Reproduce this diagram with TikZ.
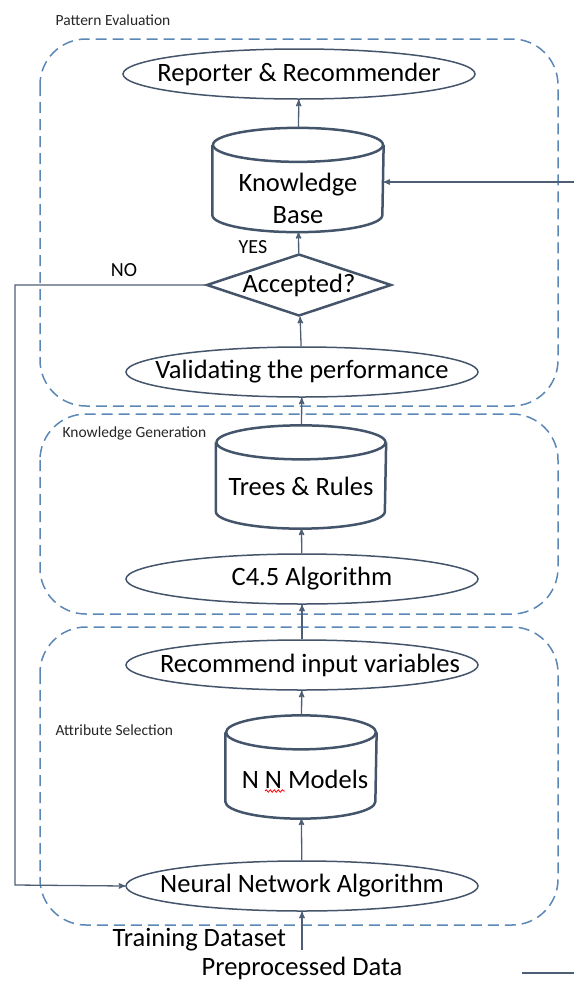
\documentclass[tikz,border=0pt]{standalone}
\usepackage{xcolor}
\usepackage{fontspec}
\setmainfont{Carlito}
\usepackage{tikz}
\usetikzlibrary{arrows, shapes.geometric, decorations.pathmorphing}

\definecolor{shapecol}{HTML}{44546A}
\definecolor{arrcol}{HTML}{4E5E74}
\definecolor{grpcol}{HTML}{5A87B5}

\begin{document}
\begin{tikzpicture}[x=1pt, y=-1pt,
				>=stealth',
				line width=1.3pt,
				ell/.style={ellipse, draw=shapecol, line width=1.5pt, inner sep=0pt,
					minimum width=352pt, minimum height=50pt, font=\fontsize{26.5}{32}\selectfont},
				cylbox/.style={rectangle, inner sep=0pt, minimum height=102pt},
				cylline/.style={draw=shapecol, line width=2.5pt, line join=round},
				cyltext/.style={align=center, inner sep=0pt, font=\fontsize{26.5}{32}\selectfont},
				grp/.style={draw=grpcol, line width=1.5pt, dash pattern=on 11pt off 6pt, rounded corners=46pt},
				grplabel/.style={anchor=west, inner sep=0pt, font=\fontsize{15.5}{18}\selectfont, text=black!85},
				yesno/.style={inner sep=0pt, font=\fontsize{20}{24}\selectfont}]
				\useasboundingbox (0,0) rectangle (574,983);
				% group boxes
				\draw[grp] (40,39) rectangle (558,406);
				\draw[grp] (40,414) rectangle (558,614);
				\draw[grp] (40,627) rectangle (558,925);
				\node at (55,20) (pelabel) [grplabel] {Pattern Evaluation};
				\node at (62,433) (kglabel) [grplabel] {Knowledge Generation};
				\node at (55,730) (aslabel) [grplabel] {Attribute Selection};
				% flow
				\node at (299,74) (rep) [ell] {\makebox[0pt]{Reporter \& Recommender}};
				\node at (298,180) (kb) [cylbox, minimum width=170pt, minimum height=103pt,
					label={[cyltext, yshift=-18pt]center:Knowledge\\Base}] {};
				\node at (299,285) (acc) [diamond, draw=shapecol, line width=2.5pt, inner sep=0pt,
					minimum width=185pt, minimum height=62pt, font=\fontsize{26.5}{32}\selectfont] {\makebox[0pt]{Accepted?}};
				\node at (302,372) (val) [ell] {\makebox[0pt]{Validating the performance}};
				\node at (301,477) (trees) [cylbox, minimum width=169pt,
					label={[cyltext, yshift=-9pt]center:Trees \& Rules}] {};
				\node at (302,579) (c45) [ell] {\makebox[0pt]{\hspace*{20pt}C4.5 Algorithm}};
				\node at (302,665) (recin) [ell] {\makebox[0pt]{\hspace*{16pt}Recommend input variables}};
				\node at (301,767) (nnm) [cylbox, minimum width=150pt,
					label={[cyltext, yshift=-12pt, xshift=4pt]center:N N Models}] {};
				\node at (302,886) (nnalg) [ell] {\makebox[0pt]{Neural Network Algorithm}};
				\node at (253,247) (yes) [yesno] {YES};
				\node at (124,270) (no) [yesno] {NO};
				\node at (112,940) (train) [anchor=west, inner sep=0pt, font=\fontsize{26.5}{32}\selectfont] {Training Dataset};
				\node at (201,968) (prep) [anchor=west, inner sep=0pt, font=\fontsize{26.5}{32}\selectfont] {Preprocessed Data};
				% cylinder outlines
				\draw[cylline] ([yshift=-17pt]kb.north) ellipse [x radius=85pt, y radius=17pt];
				\draw[cylline] ([yshift=-17pt]kb.north west) -- ([yshift=17pt]kb.south west)
					arc[start angle=180, end angle=360, x radius=85pt, y radius=17pt] -- ([yshift=-17pt]kb.north east);
				\draw[cylline] ([yshift=-17pt]trees.north) ellipse [x radius=84.5pt, y radius=17pt];
				\draw[cylline] ([yshift=-17pt]trees.north west) -- ([yshift=17pt]trees.south west)
					arc[start angle=180, end angle=360, x radius=84.5pt, y radius=17pt] -- ([yshift=-17pt]trees.north east);
				\draw[cylline] ([yshift=-17pt]nnm.north) ellipse [x radius=75pt, y radius=17pt];
				\draw[cylline] ([yshift=-17pt]nnm.north west) -- ([yshift=17pt]nnm.south west)
					arc[start angle=180, end angle=360, x radius=75pt, y radius=17pt] -- ([yshift=-17pt]nnm.north east);
				\coordinate (kbin) at (574,182);
				\coordinate (nobend) at (15,885);
				\coordinate (datain) at (302,950);
				\coordinate (tailA) at (522,973);
				\coordinate (tailB) at (574,973);
				% connectors
				\draw[->, arrcol] (kb) -- (rep);
				\draw[->, arrcol] (acc) -- (kb);
				\draw[->, arrcol] (val) -- (acc);
				\draw[->, arrcol] (trees) -- (val);
				\draw[->, arrcol] (c45) -- (trees);
				\draw[->, arrcol] (recin) -- (c45);
				\draw[->, arrcol] (nnm) -- (recin);
				\draw[->, arrcol] (nnalg) -- (nnm);
				\draw[->, arrcol] (datain) -- (nnalg);
				\draw[->, arrcol] (kbin) -- (kbin -| kb.east);
				\draw[->, arrcol] (acc.west) -| (nobend) -- (nnalg.west);
				\draw[arrcol] (tailA) -- (tailB);
				% spell-check mark
				\draw[red, line width=0.8pt, decorate, decoration={snake, amplitude=1.2pt, segment length=4pt}] (265,791) -- (285,791);
			\end{tikzpicture}
\end{document}
